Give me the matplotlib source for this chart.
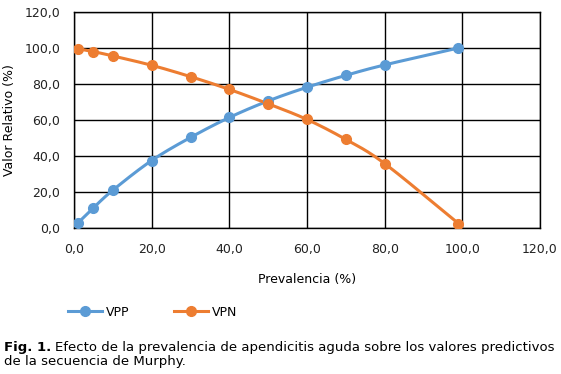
import numpy as np
import matplotlib
matplotlib.use("Agg")
import matplotlib.pyplot as plt
from matplotlib.lines import Line2D

plt.rcParams['font.family'] = ['DejaVu Sans']

# prevalence (%) and predictive values (%)
prevalencia = [1, 5, 10, 20, 30, 40, 50, 60, 70, 80, 99]
vpp = [2.8, 11.2, 21.0, 37.5, 50.3, 61.4, 70.6, 78.2, 84.8, 90.6, 100.0]
vpn = [99.6, 98.0, 95.6, 90.4, 84.1, 77.0, 69.0, 60.3, 49.2, 35.8, 2.5]

tick_vals = [0, 20, 40, 60, 80, 100, 120]
tick_labels = ['0,0', '20,0', '40,0', '60,0', '80,0', '100,0', '120,0']

blue = '#5B9BD5'
orange = '#ED7D31'


def smooth(x, y, n=20):
    # catmull-rom curve through the points, like excel's smoothed line
    x = np.asarray(x, float)
    y = np.asarray(y, float)
    px = np.concatenate([[2 * x[0] - x[1]], x, [2 * x[-1] - x[-2]]])
    py = np.concatenate([[2 * y[0] - y[1]], y, [2 * y[-1] - y[-2]]])
    xs, ys = [], []
    t = np.linspace(0, 1, n)
    for i in range(1, len(px) - 2):
        for p, out in ((px, xs), (py, ys)):
            p0, p1, p2, p3 = p[i - 1], p[i], p[i + 1], p[i + 2]
            out.extend(0.5 * (2 * p1 + (-p0 + p2) * t
                              + (2 * p0 - 5 * p1 + 4 * p2 - p3) * t ** 2
                              + (-p0 + 3 * p1 - 3 * p2 + p3) * t ** 3))
    return np.array(xs), np.array(ys)


fig = plt.figure(figsize=(5.61, 3.74), dpi=100)
ax = fig.add_axes([74 / 561, 1 - 228 / 374, 466 / 561, 216 / 374])

for y, c in ((vpp, blue), (vpn, orange)):
    sx, sy = smooth(prevalencia, y)
    ax.plot(sx, sy, color=c, lw=2.2, zorder=3, solid_capstyle='round')
    ax.plot(prevalencia, y, 'o', color=c, ms=7, zorder=4)

ax.set_xlim(0, 120)
ax.set_ylim(0, 120)
ax.set_xticks(tick_vals)
ax.set_xticklabels(tick_labels)
ax.set_yticks(tick_vals)
ax.set_yticklabels(tick_labels)
ax.tick_params(length=0, labelsize=9, colors='#222222')
ax.tick_params(axis='x', pad=11)
ax.tick_params(axis='y', pad=10)
ax.grid(True, color='black', lw=1)
for s in ax.spines.values():
    s.set_color('black')
    s.set_linewidth(1)

ax.set_xlabel('Prevalencia (%)', fontsize=9)
ax.set_ylabel('Valor Relativo (%)', fontsize=9)
ax.xaxis.set_label_coords(0.5, -(280 - 228) / 216, transform=ax.transAxes)
ax.yaxis.set_label_coords(-(74 - 10) / 466, 0.5, transform=ax.transAxes)
ax.xaxis.label.set_va('center')
ax.yaxis.label.set_va('center')

handles = [Line2D([], [], color=blue, lw=2.2, marker='o', ms=7),
           Line2D([], [], color=orange, lw=2.2, marker='o', ms=7)]
fig.legend(handles, ['VPP', 'VPN'], loc='center left', bbox_to_anchor=(57 / 561, 1 - 312 / 374),
           ncol=2, frameon=False, fontsize=9, handlelength=2.7, columnspacing=3.6,
           handletextpad=0.3)

# caption with bold "Fig. 1." followed by normal text
cap_y1 = 1 - 347 / 374
cap_y2 = 1 - 361 / 374
t1 = fig.text(4 / 561, cap_y1, 'Fig. 1.', fontsize=9.5, fontweight='bold', va='center')
fig.canvas.draw()
bb = t1.get_window_extent()
fig.text(bb.x1 / fig.bbox.width + 4 / 561, cap_y1,
         'Efecto de la prevalencia de apendicitis aguda sobre los valores predictivos',
         fontsize=9.5, va='center')
fig.text(4 / 561, cap_y2, 'de la secuencia de Murphy.', fontsize=9.5, va='center')

fig.savefig('out.png', dpi=100)
